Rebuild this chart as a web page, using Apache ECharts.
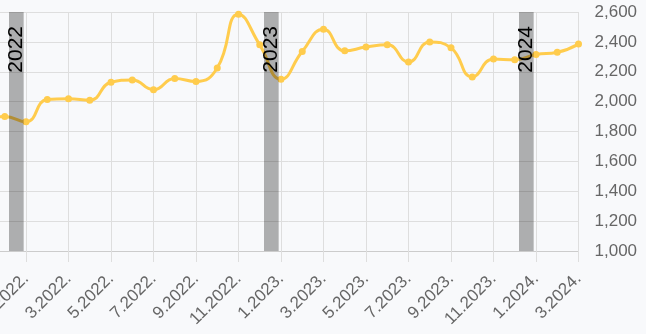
<!DOCTYPE html>
<html>
<head>
<meta charset="utf-8">
<script src="https://cdn.jsdelivr.net/npm/echarts@6/dist/echarts.min.js"></script>
<style>
html,body{margin:0;padding:0;background:#f8f9fb;}
#c{width:646px;height:334px;}
</style>
</head>
<body>
<div id="c"></div>
<script>
const months = ['11.2021.','12.2021.','1.2022.','2.2022.','3.2022.','4.2022.','5.2022.','6.2022.','7.2022.','8.2022.','9.2022.','10.2022.','11.2022.','12.2022.','1.2023.','2.2023.','3.2023.','4.2023.','5.2023.','6.2023.','7.2023.','8.2023.','9.2023.','10.2023.','11.2023.','12.2023.','1.2024.','2.2024.','3.2024.'];
const values = [1880,1900,1865,2015,2020,2010,2130,2145,2080,2155,2135,2225,2585,2380,2150,2335,2485,2340,2365,2380,2265,2400,2360,2165,2285,2280,2315,2330,2385];
const years = ['2022','2023','2024'];
const yTicks = [1000,1200,1400,1600,1800,2000,2200,2400,2600];

const font = 'Liberation Sans, Arial, sans-serif';
const gridColor = '#dedede';

const seriesData = values.map((v, i) => [i, v]);
const bands = years.map(y => {
  const idx = months.indexOf('1.' + y + '.');
  return [{ xAxis: idx - 0.8, name: y }, { xAxis: idx - 0.11 }];
});

const chart = echarts.init(document.getElementById('c'), null, { renderer: 'canvas' });
chart.setOption({
  animation: false,
  backgroundColor: '#f8f9fb',
  grid: { left: -16.5, right: 67.5, top: 12, bottom: 83, containLabel: false, outerBoundsMode: 'none' },
  xAxis: {
    type: 'value',
    min: 0,
    max: months.length - 1,
    interval: 2,
    axisLine: { show: true, lineStyle: { color: '#cccccc', width: 1 } },
    axisTick: { show: true, length: 11, lineStyle: { color: gridColor } },
    splitLine: { show: true, lineStyle: { color: gridColor } },
    axisLabel: {
      rotate: 45,
      margin: 25,
      fontSize: 17,
      fontFamily: font,
      color: '#666666',
      showMinLabel: true,
      showMaxLabel: true,
      formatter: v => months[v] || ''
    }
  },
  yAxis: {
    type: 'value',
    position: 'right',
    min: yTicks[0],
    max: yTicks[yTicks.length - 1],
    interval: 200,
    axisLine: { show: false },
    axisTick: { show: true, length: 11, lineStyle: { color: gridColor } },
    splitLine: { show: true, lineStyle: { color: gridColor } },
    axisLabel: {
      margin: 16,
      fontSize: 17,
      fontFamily: font,
      color: '#666666',
      formatter: v => v.toLocaleString('en-US')
    }
  },
  series: [
    {
      type: 'line',
      data: seriesData,
      smooth: 0.5,
      z: 2,
      symbol: 'circle',
      symbolSize: 7,
      showAllSymbol: true,
      lineStyle: { color: '#ffcc4d', width: 3 },
      itemStyle: { color: '#ffcc4d' }
    },
    {
      type: 'line',
      data: [],
      z: 10,
      markArea: {
        z: 10,
        silent: true,
        itemStyle: { color: 'rgba(0,0,0,0.3)' },
        label: {
          show: true,
          position: 'insideTop',
          rotate: 90,
          align: 'right',
          verticalAlign: 'middle',
          distance: 14,
          fontSize: 21,
          fontFamily: font,
          color: '#000000'
        },
        data: bands
      }
    }
  ]
});
</script>
</body>
</html>
